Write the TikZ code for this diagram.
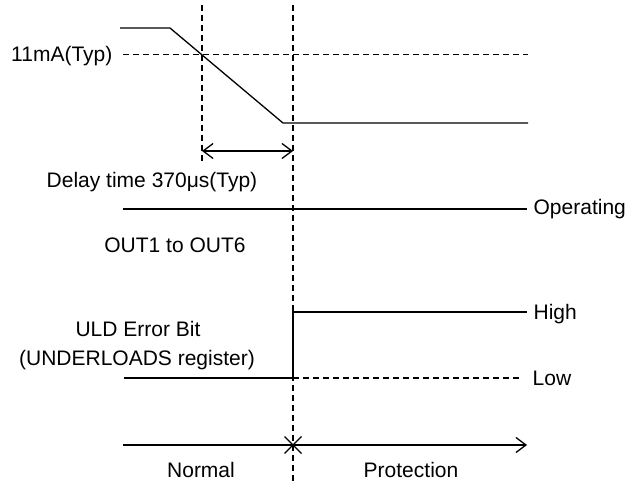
\documentclass[tikz,border=0pt]{standalone}
\usepackage{fontspec}
\setmainfont{Liberation Sans}
\usetikzlibrary{arrows.meta}
\begin{document}
\begin{tikzpicture}[x=1bp,y=-1bp,line width=1.3bp,
  dsh/.style={dash pattern=on 6bp off 4bp},
  lbl/.style={inner sep=0pt,font=\fontsize{21bp}{25bp}\selectfont},
  barb/.style={Straight Barb[length=10bp,width=15bp]},
  tip/.style={-{Straight Barb[length=10bp,width=15bp]}}]
\useasboundingbox (0,0) rectangle (628,482);
% labels
\node[lbl,anchor=base east] (imA) at (113,62) {11mA(Typ)};
\node[lbl,anchor=base] (delay) at (152,188) {Delay time 370μs(Typ)};
\node[lbl,anchor=base west] (oper) at (533,215) {Operating};
\node[lbl,anchor=base] (out) at (175,252) {OUT1 to OUT6};
\node[lbl,anchor=base] (uld) at (138,336) {ULD Error Bit};
\node[lbl,anchor=base] (reg) at (137,365) {(UNDERLOADS register)};
\node[lbl,anchor=base west] (high) at (533,319) {High};
\node[lbl,anchor=base west] (low) at (532,385) {Low};
\node[lbl,anchor=base] (normal) at (201,477) {Normal};
\node[lbl,anchor=base] (prot) at (411,477) {Protection};
% coordinates
\coordinate (t1) at (202,5);
\coordinate (b1) at (202,163);
\coordinate (t2) at (293,5);
\coordinate (b2) at (293,482);
\coordinate (c0) at (120,28);
\coordinate (c1) at (170,28);
\coordinate (c2) at (283,123);
\coordinate (c3) at (528,123);
\coordinate (m0) at (123,54.5);
\coordinate (m1) at (528,54.5);
\coordinate (d0) at (202,151);
\coordinate (d1) at (293,151);
\coordinate (o0) at (123,209);
\coordinate (o1) at (527,209);
\coordinate (l0) at (124,378);
\coordinate (l1) at (293,378);
\coordinate (h1) at (293,312);
\coordinate (h2) at (527,312);
\coordinate (l2) at (522,378);
\coordinate (a0) at (123,445);
\coordinate (a1) at (527,445);
\coordinate (x0) at (293,445);
% vertical references
\draw[dsh] (t1) -- (b1);
\draw[dsh] (t2) -- (b2);
% current waveform
\draw (c0) -- (c1) -- (c2) -- (c3);
\draw[dsh] (m0) -- (m1);
% delay
\draw[{Straight Barb[length=10bp,width=15bp]}-{Straight Barb[length=10bp,width=15bp]}] (d0) -- (d1);
% outputs
\draw (o0) -- (o1);
% ULD error bit
\draw (l0) -- (l1) -- (h1) -- (h2);
\draw[dsh] (l1) -- (l2);
% state axis
\draw[tip] (a0) -- (a1);
\draw ([shift={(-8.5,-8.5)}]x0) -- ([shift={(8.5,8.5)}]x0);
\draw ([shift={(-8.5,8.5)}]x0) -- ([shift={(8.5,-8.5)}]x0);
\end{tikzpicture}
\end{document}
